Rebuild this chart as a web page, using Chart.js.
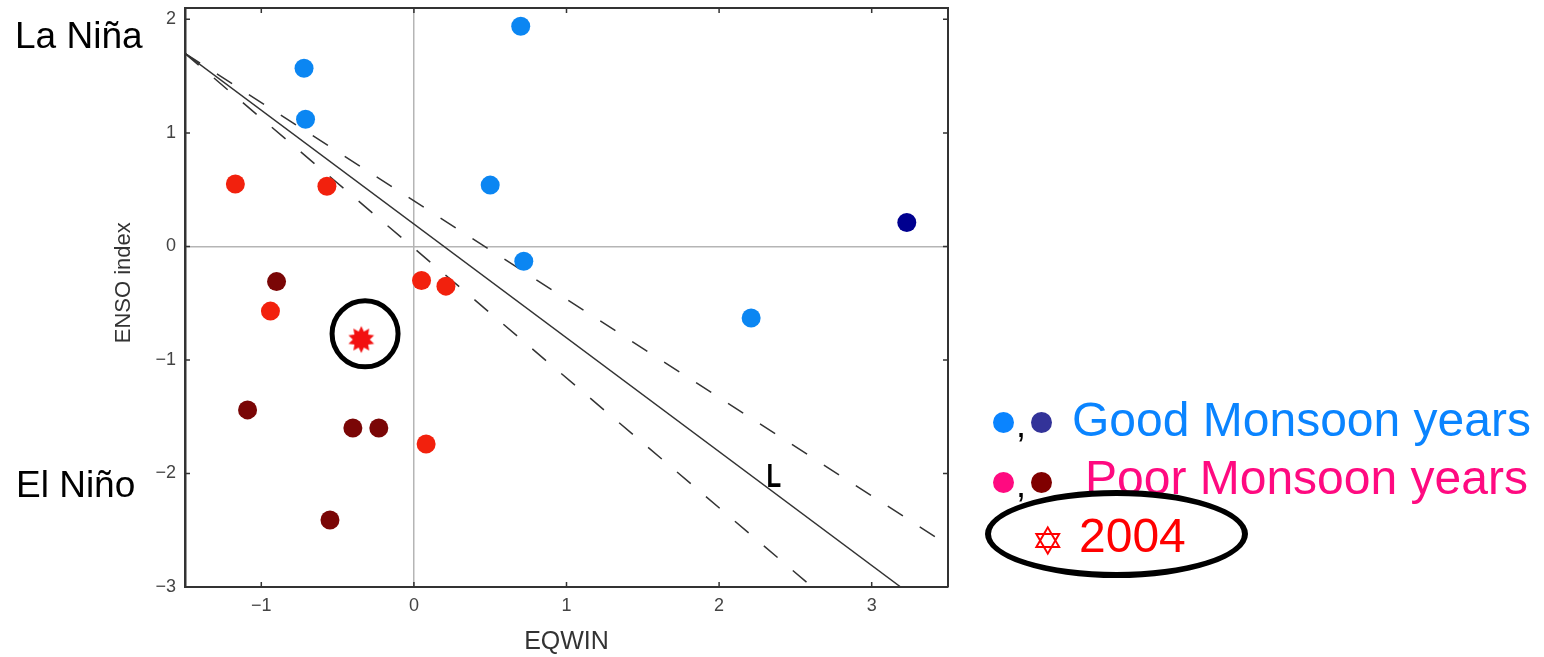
<!DOCTYPE html>
<html>
<head>
<meta charset="utf-8">
<script src="https://cdn.jsdelivr.net/npm/chart.js@4"></script>
<style>
  body { margin: 0; background: #fff; font-family: "Liberation Sans", Arial, sans-serif; }
  #wrap { position: relative; width: 1544px; height: 657px; overflow: hidden; }
  #wrap canvas { position: absolute; left: 0; top: -8px; }
  .txt { position: absolute; line-height: 1; white-space: nowrap; }
  .dot { position: absolute; width: 21px; height: 21px; border-radius: 50%; }
  #ring { position: absolute; left: 985px; top: 490px; width: 263px; height: 88px;
          border: 6px solid #000; border-radius: 50%; box-sizing: border-box; }
</style>
</head>
<body>
<div id="wrap">
  <canvas id="scatter" width="1544" height="665"></canvas>

  <div class="txt" style="left:15px; top:17px; font-size:37px; color:#000;">La Niña</div>
  <div class="txt" style="left:16px; top:466px; font-size:37px; color:#000;">El Niño</div>

  <div class="dot" style="left:993px; top:412px; background:#0a84ff;"></div>
  <div class="txt" style="left:1016px; top:407px; font-size:36px; color:#000;">,</div>
  <div class="dot" style="left:1031px; top:412px; background:#333399;"></div>
  <div class="txt" style="left:1072px; top:396px; font-size:48px; color:#0a84ff;">Good Monsoon years</div>

  <div class="dot" style="left:993px; top:472px; background:#ff0a80;"></div>
  <div class="txt" style="left:1016px; top:467px; font-size:36px; color:#000;">,</div>
  <div class="dot" style="left:1031px; top:472px; background:#800000;"></div>
  <div class="txt" style="left:1085px; top:454px; font-size:48px; color:#ff0a80;">Poor Monsoon years</div>

  <div id="ring"></div>
  <div class="txt" style="left:1031px; top:521px; font-size:40px; color:#ff0000; font-family:'DejaVu Sans';">✡</div>
  <div class="txt" style="left:1079px; top:512px; font-size:48px; color:#ff0000;">2004</div>
</div>

<script>
// points (EQWIN, ENSO index)
const goodX = [-0.72, -0.71, 0.70, 0.50, 0.72, 2.21];
const goodY = [1.57, 1.12, 1.94, 0.54, -0.13, -0.63];
const goodDarkX = [3.23];
const goodDarkY = [0.21];
const poorX = [-1.17, -0.57, -0.94, 0.05, 0.21, 0.08];
const poorY = [0.55, 0.53, -0.57, -0.30, -0.35, -1.74];
const poorDarkX = [-0.90, -1.09, -0.40, -0.23, -0.55];
const poorDarkY = [-0.31, -1.44, -1.60, -1.60, -2.41];
const yr2004X = [-0.345];
const yr2004Y = [-0.82];

// regression line L and the two dashed bounds
const lineX = [-1.5, 3.19];
const lineY = [1.7, -3];
const upperX = [-1.5, 3.5];
const upperY = [1.7, -2.63];
const lowerX = [-1.5, 2.61];
const lowerY = [1.7, -3];

const xTicks = [-1, 0, 1, 2, 3];
const yTicks = [-3, -2, -1, 0, 1, 2];

const pts = (xs, ys) => xs.map((x, i) => ({x: x, y: ys[i]}));
const minus = v => String(v).replace("-", "\u2212");

// starburst marker for 2004
const star = document.createElement("canvas");
star.width = 30; star.height = 30;
(function () {
    const c = star.getContext("2d");
    c.fillStyle = "#f21010";
    c.beginPath();
    for (let i = 0; i < 20; i++) {
        const r = i % 2 === 0 ? 13.5 : 8.5;
        const a = i * Math.PI / 10 - Math.PI / 2;
        const px = 15 + r * Math.cos(a), py = 15 + r * Math.sin(a);
        if (i === 0) c.moveTo(px, py); else c.lineTo(px, py);
    }
    c.closePath();
    c.fill();
})();

const extras = {
    id: "extras",
    afterDatasetsDraw(chart) {
        const {ctx, chartArea: a, scales: {x, y}} = chart;
        ctx.save();
        // frame on top and right + inward ticks
        ctx.strokeStyle = "#333";
        ctx.lineWidth = 2;
        ctx.beginPath();
        ctx.moveTo(a.left, a.top); ctx.lineTo(a.right, a.top); ctx.lineTo(a.right, a.bottom);
        ctx.stroke();
        ctx.lineWidth = 1.5;
        ctx.beginPath();
        xTicks.forEach(v => {
            const px = x.getPixelForValue(v);
            ctx.moveTo(px, a.bottom); ctx.lineTo(px, a.bottom - 5);
            ctx.moveTo(px, a.top); ctx.lineTo(px, a.top + 5);
        });
        yTicks.forEach(v => {
            const py = y.getPixelForValue(v);
            ctx.moveTo(a.left, py); ctx.lineTo(a.left + 5, py);
            ctx.moveTo(a.right, py); ctx.lineTo(a.right - 5, py);
        });
        ctx.stroke();

        // y axis title, set a little above the middle as in the figure
        ctx.save();
        ctx.fillStyle = "#333";
        ctx.font = "22px 'Liberation Sans', Arial, sans-serif";
        ctx.textAlign = "center";
        ctx.textBaseline = "middle";
        ctx.translate(124, y.getPixelForValue(-0.32));
        ctx.rotate(-Math.PI / 2);
        ctx.fillText("ENSO index", 0, 0);
        ctx.restore();

        // black ring round the 2004 point
        ctx.strokeStyle = "#000";
        ctx.lineWidth = 5;
        ctx.beginPath();
        ctx.arc(x.getPixelForValue(-0.32), y.getPixelForValue(-0.77), 33, 0, Math.PI * 2);
        ctx.stroke();

        // "L" label on the line
        ctx.fillStyle = "#000";
        ctx.font = "bold 24px 'Liberation Sans', Arial, sans-serif";
        ctx.translate(x.getPixelForValue(2.31), y.getPixelForValue(-2.115));
        ctx.scale(1, 1.4);
        ctx.textBaseline = "alphabetic";
        ctx.fillText("L", 0, 0);
        ctx.restore();
    }
};

const dot = (data, color) => ({
    type: "scatter", data: data, backgroundColor: color, borderWidth: 0, pointRadius: 9.5
});
const seg = (data, dash) => ({
    type: "line", data: data, borderColor: "#333", borderWidth: 1.5, borderDash: dash,
    pointRadius: 0, fill: false, tension: 0
});

new Chart(document.getElementById("scatter"), {
    type: "scatter",
    data: {
        datasets: [
            {type: "scatter", data: pts(yr2004X, yr2004Y), pointStyle: star, pointRadius: 15},
            dot(pts(goodX, goodY), "#0b86f2"),
            dot(pts(goodDarkX, goodDarkY), "#00008f"),
            dot(pts(poorX, poorY), "#f2210d"),
            dot(pts(poorDarkX, poorDarkY), "#7a0606"),
            seg(pts(lineX, lineY), []),
            seg(pts(upperX, upperY), [18, 20]),
            seg(pts(lowerX, lowerY), [18, 20])
        ]
    },
    options: {
        responsive: false,
        animation: false,
        layout: {padding: {left: 105, top: 0, right: 596, bottom: 0}},
        plugins: {legend: {display: false}, tooltip: {enabled: false}},
        scales: {
            x: {
                type: "linear", min: -1.5, max: 3.5,
                afterBuildTicks: s => { s.ticks = xTicks.map(v => ({value: v})); },
                afterFit: s => { s.height = 70; s.paddingLeft = 0; s.paddingRight = 0; },
                ticks: {color: "#444", padding: 8, font: {size: 18}, callback: minus},
                grid: {drawTicks: false, color: c => c.tick && c.tick.value === 0 ? "#b5b5b5" : "rgba(0,0,0,0)", lineWidth: 1.5},
                border: {color: "#333", width: 2},
                title: {display: true, text: "EQWIN", color: "#333", font: {size: 25}, padding: {top: 0, bottom: 0}}
            },
            y: {
                type: "linear", min: -3, max: 2.1,
                afterBuildTicks: s => { s.ticks = yTicks.map(v => ({value: v})); },
                afterFit: s => { s.width = 80; s.paddingTop = 0; s.paddingBottom = 0; },
                ticks: {color: "#444", padding: 9, font: {size: 18}, callback: minus},
                grid: {drawTicks: false, color: c => c.tick && c.tick.value === 0 ? "#b5b5b5" : "rgba(0,0,0,0)", lineWidth: 1.5},
                border: {color: "#333", width: 2.5}
            }
        }
    },
    plugins: [extras]
});
</script>
</body>
</html>
